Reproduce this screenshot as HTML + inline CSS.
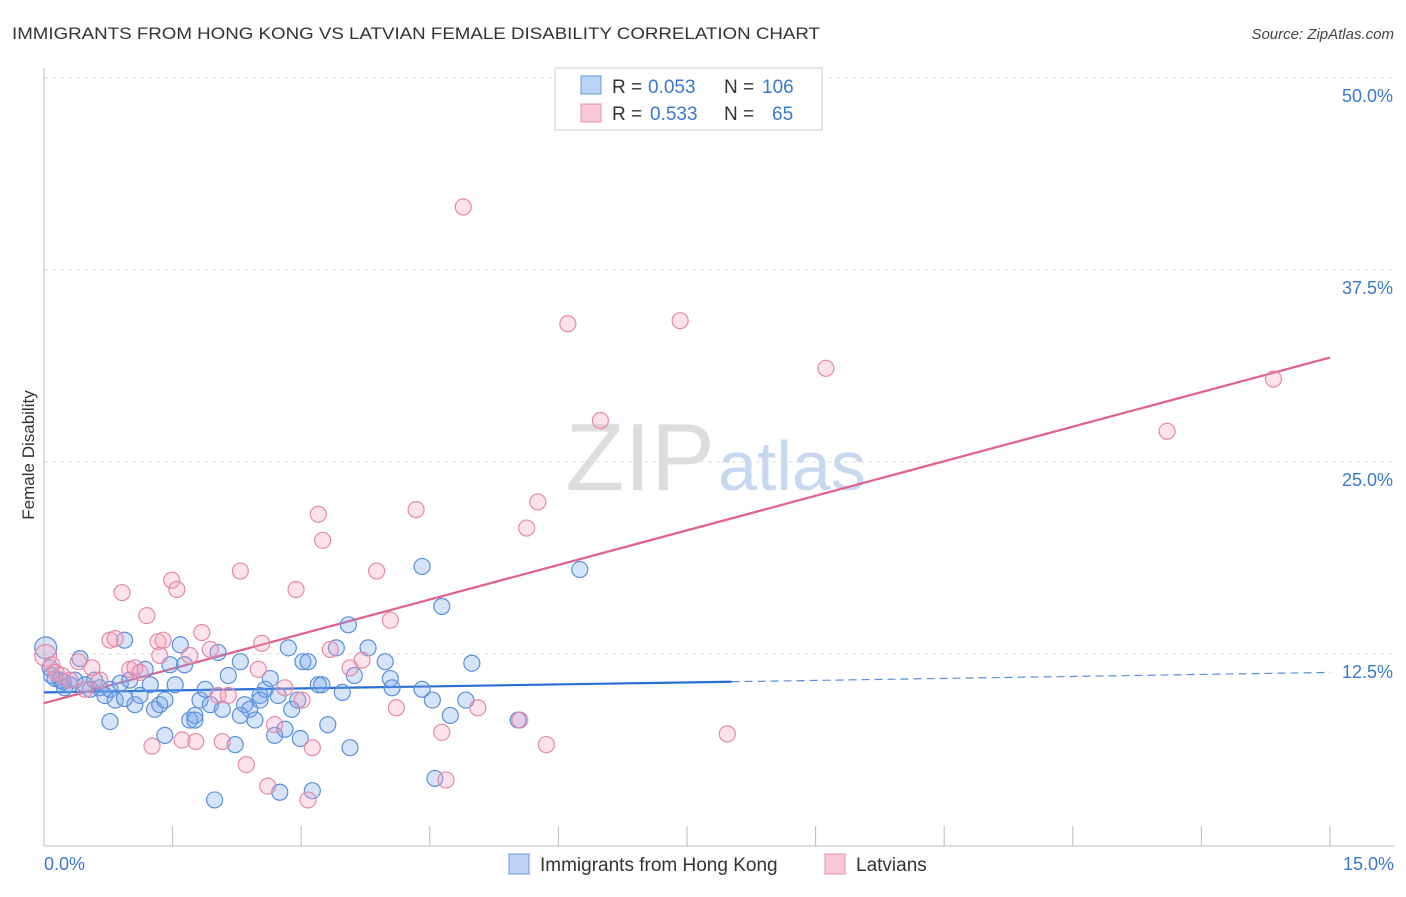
<!DOCTYPE html>
<html><head><meta charset="utf-8"><style>
body{margin:0;background:#fff;font-family:"Liberation Sans",sans-serif;}
svg text{font-family:"Liberation Sans",sans-serif;}
</style></head><body>
<svg id="chart" width="1406" height="892">
<text x="12" y="39" font-size="17" fill="#333" textLength="808" lengthAdjust="spacingAndGlyphs">IMMIGRANTS FROM HONG KONG VS LATVIAN FEMALE DISABILITY CORRELATION CHART</text>
<text x="1394" y="39" font-size="15" fill="#444" text-anchor="end" font-style="italic">Source: ZipAtlas.com</text>
<text x="715" y="490" font-size="96" fill="#ddd" text-anchor="end" font-family="Liberation Serif">ZIP</text>
<text x="718" y="490" font-size="70" fill="#c8d8f0">atlas</text>
<text transform="translate(34,455) rotate(-90)" font-size="17" fill="#333" text-anchor="middle">Female Disability</text>
<g id="grid"></g><g id="ticks"></g><g id="trend"></g><g id="pts"></g>
<g>
<rect x="555" y="68" width="267" height="62" fill="#fff" stroke="#ccc"/>
<rect x="581" y="76" width="20" height="18" fill="#bcd3f5" stroke="#6a9ae0"/>
<rect x="581" y="104" width="20" height="18" fill="#f9c9d8" stroke="#e890ad"/>
<text x="612" y="93" font-size="19" fill="#333">R =</text>
<text x="648" y="93" font-size="19" fill="#3a78d0">0.053</text>
<text x="724" y="93" font-size="19" fill="#333">N =</text>
<text x="762" y="93" font-size="19" fill="#3a78d0">106</text>
<text x="612" y="120" font-size="19" fill="#333">R =</text>
<text x="650" y="120" font-size="19" fill="#3a78d0">0.533</text>
<text x="724" y="120" font-size="19" fill="#333">N =</text>
<text x="772" y="120" font-size="19" fill="#3a78d0">65</text>
</g>
<g>
<rect x="509" y="854" width="20" height="20" fill="#bcd3f5" stroke="#6a9ae0"/>
<text x="540" y="871" font-size="19" fill="#333">Immigrants from Hong Kong</text>
<rect x="825" y="854" width="20" height="20" fill="#f9c9d8" stroke="#e890ad"/>
<text x="856" y="871" font-size="19" fill="#333">Latvians</text>
</g>
</svg>
<script>
const yTicks=[12.5,25.0,37.5,50.0];
const xTickLabels=["0.0%","15.0%"];
const blueX=[0.02,0.07,0.13,0.19,0.24,0.30,0.36,0.42,0.48,0.54,0.59,0.65,0.71,0.77,0.83,0.89,0.94,1.00,1.06,1.12,1.18,1.24,1.29,1.35,1.41,1.47,1.53,1.59,1.64,1.70,1.76,1.82,1.88,1.94,1.99,2.03,2.08,2.15,2.23,2.29,2.34,2.40,2.46,2.52,2.58,2.64,2.69,2.73,2.81,2.85,2.89,2.96,3.02,3.08,3.13,3.20,3.24,3.31,3.41,3.48,3.55,3.57,3.62,3.78,3.98,4.04,4.06,4.41,4.41,4.53,4.56,4.64,4.74,4.92,4.99,5.53,6.25,0.77,2.75,1.76,0.94,0.22,0.09,1.41,2.52,2.99,2.29];
const blueY=[12.9,11.6,10.9,10.8,10.3,10.5,10.8,12.2,10.5,10.2,10.8,10.3,9.8,10.2,9.5,10.6,13.4,10.8,9.2,9.8,11.5,10.5,8.9,9.2,7.2,11.8,10.5,13.1,11.8,8.2,8.5,9.5,10.2,9.2,3.0,12.6,8.9,11.1,6.6,12.0,9.2,8.9,8.2,9.8,10.2,10.9,7.2,9.8,7.6,12.9,8.9,9.5,12.0,12.0,3.6,10.5,10.5,7.9,12.9,10.0,14.4,6.4,11.1,12.9,12.0,10.9,10.3,18.2,10.2,9.5,4.4,15.6,8.5,9.5,11.9,8.2,18.0,8.1,3.5,8.2,9.6,10.7,11.1,9.5,9.5,7.0,8.5];
const pinkX=[0.02,0.09,0.14,0.21,0.30,0.40,0.48,0.56,0.65,0.77,0.83,0.91,1.00,1.06,1.12,1.20,1.26,1.33,1.39,1.49,1.55,1.61,1.70,1.77,1.84,1.94,2.03,2.08,2.15,2.29,2.36,2.50,2.54,2.61,2.69,2.81,2.94,3.01,3.08,3.13,3.20,3.25,3.57,3.71,3.88,4.04,4.11,4.34,4.64,4.69,5.06,5.55,5.63,5.76,5.86,6.11,6.49,4.89,7.42,7.97,9.12,13.10,14.34,1.35,3.34];
const pinkY=[12.4,11.8,11.3,11.1,10.8,12.0,10.2,11.6,10.8,13.4,13.5,16.5,11.5,11.6,11.3,15.0,6.5,13.3,13.4,17.3,16.7,6.9,12.4,6.8,13.9,12.8,9.8,6.8,9.8,17.9,5.3,11.5,13.2,3.9,7.9,10.3,16.7,9.5,3.0,6.4,21.6,19.9,11.6,12.1,17.9,14.7,9.0,21.9,7.4,4.3,9.0,8.2,20.7,22.4,6.6,34.0,27.7,41.6,34.2,7.3,31.1,27.0,30.4,12.4,12.8];
const blueTrend=[10.0,11.3];
const blueSolidEnd=8.02;
const pinkTrend=[9.3,31.8];
const NS="http://www.w3.org/2000/svg";
const X=v=>44+v/15*1286, Y=v=>846-v/12.5*192;
function mk(tag,attrs,parent){const e=document.createElementNS(NS,tag);for(const k in attrs)e.setAttribute(k,attrs[k]);parent.appendChild(e);return e;}
const grid=document.getElementById('grid'),ticks=document.getElementById('ticks'),trend=document.getElementById('trend'),pts=document.getElementById('pts');
yTicks.forEach(t=>{
 const l=mk('line',{x1:44,x2:1394,y1:Y(t),y2:Y(t),stroke:'#ddd','stroke-dasharray':'4,4'},grid);
 
 
 const tx=mk('text',{x:1393,y:Y(t)+24,'font-size':18,fill:'#3a78d0','text-anchor':'end'},ticks);
 tx.textContent=t.toFixed(1)+'%';
 
 
});
mk('line',{x1:44,x2:44,y1:68,y2:846,stroke:'#bbb'},ticks);
mk('line',{x1:44,x2:1394,y1:846,y2:846,stroke:'#bbb'},ticks);
for(let i=0;i<=10;i++){mk('line',{x1:X(i*1.5),x2:X(i*1.5),y1:826,y2:846,stroke:'#bbb'},ticks);}
const t0=mk('text',{x:44,y:870,'font-size':18,fill:'#3a78d0'},ticks);t0.textContent=xTickLabels[0];


const t1=mk('text',{x:1394,y:870,'font-size':18,fill:'#3a78d0','text-anchor':'end'},ticks);t1.textContent=xTickLabels[1];


function draw(xs,ys,fill,stroke,name){xs.forEach((x,i)=>{const c=mk('circle',{cx:X(x),cy:Y(ys[i]),r:i===0?11:8,fill:fill,stroke:stroke,'stroke-width':1.2},pts);
 
 });}
draw(blueX,blueY,'rgba(120,165,235,0.3)','#5b8fd9','point-hong-kong');
draw(pinkX,pinkY,'rgba(245,160,190,0.3)','#e48aa8','point-latvian');
const bAt=x=>blueTrend[0]+(blueTrend[1]-blueTrend[0])*x/15;
const bl=mk('line',{x1:X(0),y1:Y(bAt(0)),x2:X(blueSolidEnd),y2:Y(bAt(blueSolidEnd)),stroke:'#2a6fd6','stroke-width':2.2},trend);


const bd=mk('line',{x1:X(blueSolidEnd),y1:Y(bAt(blueSolidEnd)),x2:X(15),y2:Y(bAt(15)),stroke:'#5b8fd9','stroke-width':1.2,'stroke-dasharray':'8,5'},trend);


const pl=mk('line',{x1:X(0),y1:Y(pinkTrend[0]),x2:X(15),y2:Y(pinkTrend[1]),stroke:'#e0608e','stroke-width':2.2},trend);


</script>
</body></html>
